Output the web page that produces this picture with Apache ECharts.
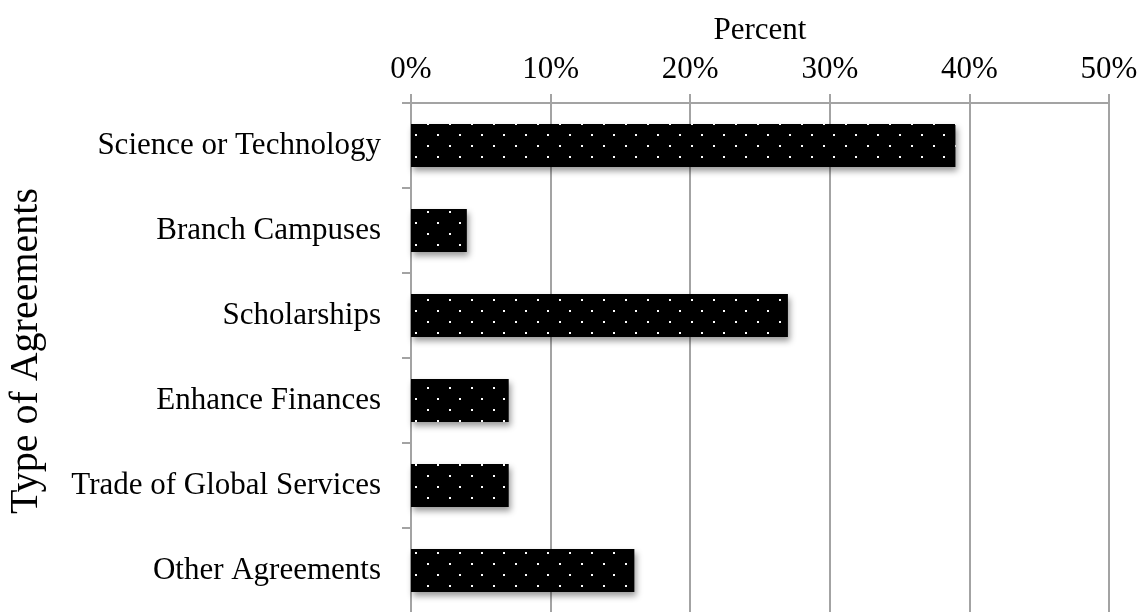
<!DOCTYPE html>
<html>
<head>
<meta charset="utf-8">
<script src="https://cdn.jsdelivr.net/npm/echarts@6/dist/echarts.min.js"></script>
<style>
  html, body { margin: 0; padding: 0; background: #fff; }
  #chart { width: 1143px; height: 612px; }
</style>
</head>
<body>
<div id="chart"></div>
<script>
// Agreement types, listed top to bottom
const categories = [
  'Science or Technology',
  'Branch Campuses',
  'Scholarships',
  'Enhance Finances',
  'Trade of Global Services',
  'Other Agreements'
];
// Share of agreements, percent
const percentValues = [39, 4, 27, 7, 7, 16];
const xTicks = { min: 0, max: 50, step: 10 };

// Black fill sprinkled with small white dots on a staggered grid
function dotPattern() {
  const c = document.createElement('canvas');
  c.width = 22;
  c.height = 22;
  const g = c.getContext('2d');
  g.fillStyle = '#000';
  g.fillRect(0, 0, 22, 22);
  g.fillStyle = '#fff';
  g.fillRect(19, 2, 2, 2);
  g.fillRect(9, 13, 2, 2);
  return c;
}

const gray = '#a3a3a3';
const serif = '"Liberation Serif", "Times New Roman", serif';

const chart = echarts.init(document.getElementById('chart'), null, { renderer: 'canvas' });
chart.setOption({
  animation: false,
  backgroundColor: '#fff',
  textStyle: { fontFamily: serif, color: '#000' },
  grid: {
    left: 411, right: 34, top: 103, bottom: -1,
    containLabel: false,
    outerBoundsMode: 'none'
  },
  xAxis: {
    type: 'value',
    position: 'top',
    min: xTicks.min,
    max: xTicks.max,
    interval: xTicks.step,
    name: 'Percent',
    nameLocation: 'middle',
    nameGap: 57,
    nameTextStyle: { fontFamily: serif, fontSize: 31, color: '#000' },
    axisLine: { show: true, lineStyle: { color: gray, width: 2 } },
    axisTick: { show: true, inside: false, length: 9, lineStyle: { color: gray, width: 2 } },
    axisLabel: { margin: 18, fontFamily: serif, fontSize: 31, color: '#000', formatter: '{value}%' },
    splitLine: { show: true, lineStyle: { color: gray, width: 2 } }
  },
  yAxis: {
    type: 'category',
    inverse: true,
    data: categories,
    name: 'Type of Agreements',
    nameLocation: 'middle',
    nameRotate: 90,
    nameGap: 365,
    nameTextStyle: { fontFamily: serif, fontSize: 40, color: '#000', padding: [0, 0, 0, 14] },
    axisLine: { show: true, lineStyle: { color: gray, width: 2 } },
    axisTick: { show: true, length: 9, lineStyle: { color: gray, width: 2 } },
    axisLabel: { margin: 30, fontFamily: serif, fontSize: 31, color: '#000', padding: [8, 0, 0, 0] },
    splitLine: { show: false }
  },
  series: [{
    type: 'bar',
    data: percentValues,
    barWidth: 43,
    itemStyle: {
      color: { image: dotPattern(), repeat: 'repeat' },
      shadowColor: 'rgba(0,0,0,0.4)',
      shadowBlur: 6,
      shadowOffsetX: 2,
      shadowOffsetY: 4
    },
    emphasis: { disabled: true }
  }]
});
</script>
</body>
</html>
